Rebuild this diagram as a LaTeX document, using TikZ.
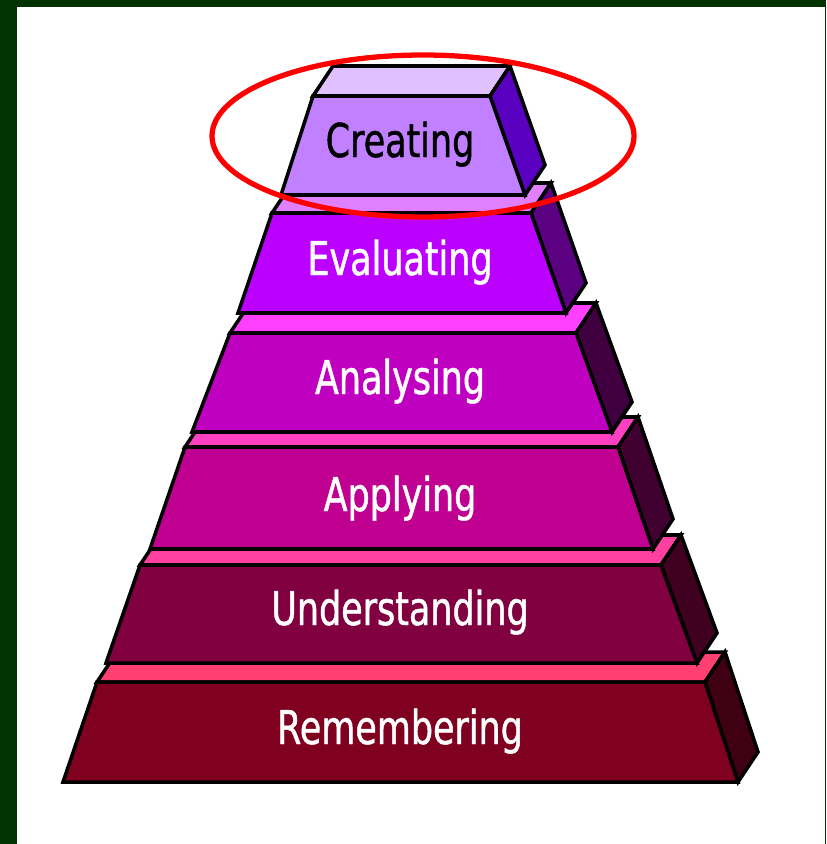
\documentclass[tikz,border=0pt]{standalone}
\usepackage{fontspec}
\newfontfamily\layerfont{DejaVu Sans}[FakeStretch=0.75,FakeBold=1]
\definecolor{frame}{HTML}{003300}
\definecolor{createfront}{HTML}{C080FF}
\definecolor{createtop}{HTML}{E0C0FF}
\definecolor{createside}{HTML}{5A00C0}
\definecolor{evalfront}{HTML}{BB00FF}
\definecolor{evaltop}{HTML}{E080FF}
\definecolor{evalside}{HTML}{5A0080}
\definecolor{analfront}{HTML}{C000C0}
\definecolor{analtop}{HTML}{FF40FF}
\definecolor{analside}{HTML}{400040}
\definecolor{applfront}{HTML}{C00090}
\definecolor{appltop}{HTML}{FF40C0}
\definecolor{applside}{HTML}{400030}
\definecolor{underfront}{HTML}{800040}
\definecolor{undertop}{HTML}{FF40A0}
\definecolor{underside}{HTML}{400020}
\definecolor{remfront}{HTML}{800020}
\definecolor{remtop}{HTML}{FF4070}
\definecolor{remside}{HTML}{400014}

\begin{document}
\begin{tikzpicture}[x=0.2mm,y=-0.2mm,
    face/.style={draw=black,line width=2pt,line join=miter},
    label/.style={font=\layerfont\fontsize{26.5}{30}\selectfont,anchor=base,text=white}]
            \useasboundingbox (0,0) rectangle (826,844);
            \fill[frame] (0,0) rectangle (826,844);
            \fill[white] (17,7) rectangle (825,844);
            % Remembering
            \draw[face,fill=remtop] (97,682)--(705,682)--(725,652)--(117,652)--cycle;
            \draw[face,fill=remside] (705,682)--(725,652)--(758,752)--(738,782)--cycle;
            \draw[face,fill=remfront] (97,682)--(705,682)--(738,782)--(63,782)--cycle;
            \node[label] (remembering) at (400,744) {Remembering};
            % Understanding
            \draw[face,fill=undertop] (140,565)--(661,565)--(681,535)--(160,535)--cycle;
            \draw[face,fill=underside] (661,565)--(681,535)--(717,633)--(697,663)--cycle;
            \draw[face,fill=underfront] (140,565)--(661,565)--(697,663)--(106,663)--cycle;
            \node[label] (understanding) at (400,625) {Understanding};
            % Applying
            \draw[face,fill=appltop] (185,447)--(618,447)--(638,417)--(205,417)--cycle;
            \draw[face,fill=applside] (618,447)--(638,417)--(673,519)--(653,549)--cycle;
            \draw[face,fill=applfront] (185,447)--(618,447)--(653,549)--(150,549)--cycle;
            \node[label] (applying) at (400,511) {Applying};
            % Analysing
            \draw[face,fill=analtop] (230,333)--(576,333)--(596,303)--(250,303)--cycle;
            \draw[face,fill=analside] (576,333)--(596,303)--(632,402)--(612,432)--cycle;
            \draw[face,fill=analfront] (230,333)--(576,333)--(612,432)--(192,432)--cycle;
            \node[label] (analysing) at (400,394) {Analysing};
            % Evaluating
            \draw[face,fill=evaltop] (272,213)--(531,213)--(551,183)--(292,183)--cycle;
            \draw[face,fill=evalside] (531,213)--(551,183)--(586,283)--(566,313)--cycle;
            \draw[face,fill=evalfront] (272,213)--(531,213)--(566,313)--(238,313)--cycle;
            \node[label] (evaluating) at (400,275) {Evaluating};
            % Creating
            \draw[face,fill=createtop] (313,96)--(490,96)--(510,66)--(333,66)--cycle;
            \draw[face,fill=createside] (490,96)--(510,66)--(545,165)--(525,195)--cycle;
            \draw[face,fill=createfront] (313,96)--(490,96)--(525,195)--(281,195)--cycle;
            \node[label,text=black] (creating) at (400,157) {Creating};
            % highlight
            \draw[red,line width=3pt] (423,136) ellipse [x radius=211,y radius=81];
\end{tikzpicture}
\end{document}
